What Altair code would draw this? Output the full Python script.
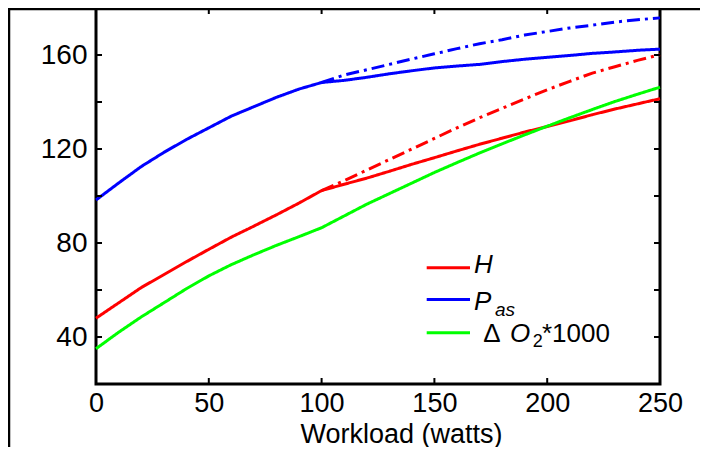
import altair as alt
import pandas as pd

# ---- data ----
workload = list(range(0, 251, 10))
H = [48, 54.5, 61, 66.5, 72, 77.3, 82.5, 87.2, 92, 97, 102.3, 105, 107.6, 110.5,
     113.5, 116.3, 119.2, 122, 124.6, 127.2, 129.6, 132, 134.6, 137, 139.2, 141.4]
Pas = [98.3, 105.5, 112.5, 118.5, 124, 129, 134, 138, 142, 145.5, 148.3, 149.2, 150.5,
       152, 153.3, 154.5, 155.3, 156, 157.2, 158.2, 159, 159.8, 160.7, 161.3, 162, 162.5]
dO2 = [35, 42, 48.5, 54.5, 60.5, 66, 70.8, 75, 79, 82.7, 86.5, 91.5, 96.5, 101, 105.5,
       110, 114.2, 118.3, 122.2, 126, 129.7, 133.3, 136.8, 140.2, 143.3, 146.3]

workload_ext = list(range(100, 251, 10))
H_ext = [102.3, 106.5, 111, 115.5, 120, 124.5, 129, 133.3, 137.3, 141.3, 145.2, 148.8,
         152.3, 155, 157.7, 160.1]
Pas_ext = [148.3, 151.5, 153.7, 156, 158.3, 160.5, 162.7, 164.8, 166.5, 168.5, 170,
           171.5, 172.7, 174, 175, 175.8]

x_label_values = [0, 50, 100, 150, 200, 250]
y_label_values = [40, 80, 120, 160]
x_tick_values = [50, 100, 150, 200]
y_tick_values = [40, 60, 80, 100, 120, 140, 160]

series_names = ["H", "Pas", "dO2"]
series_colors = ["#ff0000", "#0000ff", "#00ff00"]

rows = []
for name, vals in [("H", H), ("Pas", Pas), ("dO2", dO2)]:
    for w, v in zip(workload, vals):
        rows.append({"workload": w, "value": v, "series": name, "style": "solid",
                     "key": name + "_solid"})
for name, vals in [("H", H_ext), ("Pas", Pas_ext)]:
    for w, v in zip(workload_ext, vals):
        rows.append({"workload": w, "value": v, "series": name, "style": "dashdot",
                     "key": name + "_dashdot"})
df = pd.DataFrame(rows)

W, HT = 564, 376
FONT = "Liberation Sans"

xs = alt.Scale(domain=[0, 250], nice=False, zero=False)
ys = alt.Scale(domain=[20, 180], nice=False, zero=False)

x_axis = alt.Axis(values=x_label_values, title="Workload (watts)",
                  labelPadding=6, labelFontSize=27, labelFlush=False, labelOverlap=False,
                  titleX=305, titleY=58, titleAlign="center",
                  titleBaseline="alphabetic")
y_axis = alt.Axis(values=y_label_values, title=None, labelPadding=9, labelFontSize=28,
                  labelFlush=False, labelOverlap=False)

lines = alt.Chart(df).mark_line(strokeWidth=3, strokeCap="butt").encode(
    x=alt.X("workload:Q", scale=xs, axis=x_axis),
    y=alt.Y("value:Q", scale=ys, axis=y_axis),
    color=alt.Color("series:N", scale=alt.Scale(domain=series_names, range=series_colors),
                    legend=None),
    strokeDash=alt.StrokeDash("style:N",
                              scale=alt.Scale(domain=["solid", "dashdot"],
                                              range=[[1, 0], [13, 5, 3, 5]]),
                              legend=None),
    detail="key:N",
    order="workload:Q",
)

ytick_df = pd.DataFrame({"v": y_tick_values})
xtick_df = pd.DataFrame({"w": x_tick_values})

yt_left = alt.Chart(ytick_df).mark_rule(color="black", strokeWidth=2).encode(
    y=alt.Y("v:Q", scale=ys, axis=y_axis), x=alt.value(0), x2=alt.value(6))
yt_right = alt.Chart(ytick_df).mark_rule(color="black", strokeWidth=2).encode(
    y=alt.Y("v:Q", scale=ys, axis=y_axis), x=alt.value(W - 6), x2=alt.value(W))
xt_bottom = alt.Chart(xtick_df).mark_rule(color="black", strokeWidth=2).encode(
    x=alt.X("w:Q", scale=xs, axis=x_axis), y=alt.value(HT - 6), y2=alt.value(HT))
xt_top = alt.Chart(xtick_df).mark_rule(color="black", strokeWidth=2).encode(
    x=alt.X("w:Q", scale=xs, axis=x_axis), y=alt.value(0), y2=alt.value(6))

one = pd.DataFrame({"a": [0]})

# outer figure frame
frame_left = alt.Chart(one).mark_rule(color="black", strokeWidth=2.5).encode(
    x=alt.value(-87), y=alt.value(0), y2=alt.value(439))
frame_top = alt.Chart(one).mark_rule(color="black", strokeWidth=2.5).encode(
    x=alt.value(-88), x2=alt.value(604), y=alt.value(1))

# legend
def leg_line(color, y):
    return alt.Chart(one).mark_rule(color=color, strokeWidth=3).encode(
        x=alt.value(330.7), x2=alt.value(374), y=alt.value(y))

def leg_text(txt, x, y, size=26, style="normal"):
    return alt.Chart(one).mark_text(text=txt, font=FONT, fontSize=size, fontStyle=style,
                                    align="left", baseline="alphabetic",
                                    color="black").encode(x=alt.value(x), y=alt.value(y))

legend = [
    leg_line("#ff0000", 259.8),
    leg_line("#0000ff", 291.5),
    leg_line("#00ff00", 324.8),
    leg_text("H", 378, 264.7, style="italic"),
    leg_text("P", 378, 302.3, style="italic"),
    leg_text("as", 399, 307.8, size=19, style="italic"),
    leg_text("\u0394", 387.3, 333.9),
    leg_text("O", 414, 333.9, style="italic"),
    leg_text("2", 436.7, 338.8, size=18),
    leg_text("*1000", 446, 333.9),
]

chart = alt.layer(
    lines, yt_left, yt_right, xt_bottom, xt_top, frame_left, frame_top, *legend
).properties(
    width=W, height=HT,
    padding={"left": 88, "top": 0, "right": 40, "bottom": 63},
    autosize=alt.AutoSizeParams(type="none"),
    background="white",
).configure_view(
    stroke="black", strokeWidth=3
).configure_axis(
    grid=False, domain=False, ticks=False, tickSize=0,
    labelFont=FONT, labelFontSize=28, labelColor="black",
    titleFont=FONT, titleFontSize=27, titleColor="black", titleFontWeight="normal",
)

chart.save("out.html", embed_options={"renderer": "svg", "actions": False})
